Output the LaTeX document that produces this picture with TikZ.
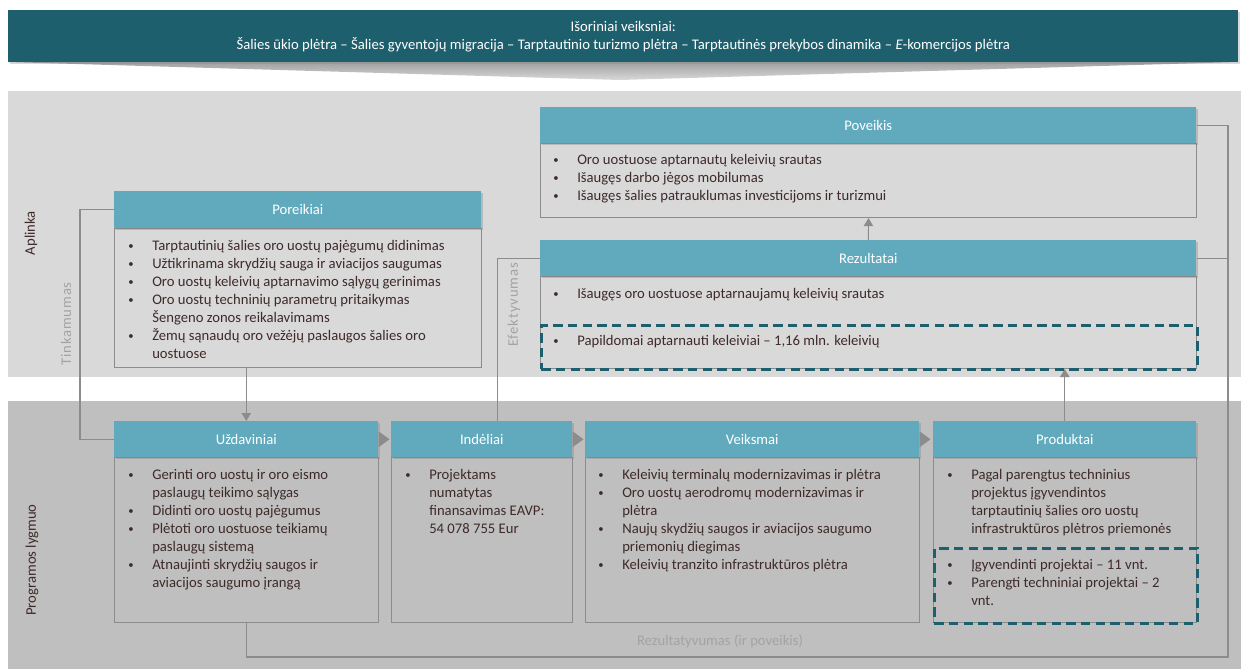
\documentclass[tikz,border=0pt]{standalone}
\usepackage{fontspec}
\setmainfont{Carlito}
\usetikzlibrary{positioning,shadows,arrows.meta}

\definecolor{bannerteal}{HTML}{1E5F6D}
\definecolor{headteal}{HTML}{61AABE}
\definecolor{bandlight}{HTML}{D9D9D9}
\definecolor{banddark}{HTML}{BFBFBF}
\definecolor{boxline}{HTML}{8C8C8C}
\definecolor{itemtext}{HTML}{3F2A2A}
\definecolor{labelgray}{HTML}{A3A3A3}

% small bullet and bullet list with hanging lines
\newcommand{\bul}{\raisebox{0.6pt}{\fontsize{8}{8}\selectfont\textbullet}}
\newcommand{\bullets}[1]{\begin{tabular}[t]{@{}p{18pt}@{}l@{}}#1\end{tabular}}

% panel: body frame + teal header
% #1 name, #2 x left, #3 x right, #4 y top, #5 y header, #6 y bottom, #7 title
\newcommand{\panel}[7]{%
  \node[body, anchor=north west, minimum width={(#3-#2)*0.75pt}, minimum height={(#6-#5)*0.75pt}] (#1b) at (#2,#5) {};
  \node[head, anchor=north west, minimum width={(#3-#2)*0.75pt}, minimum height={(#5-#4)*0.75pt}] (#1) at (#2,#4) {#7};}

\tikzset{
  head/.style={fill=headteal, text=white, inner sep=0pt, font=\fontsize{11}{13.5}\selectfont,
               drop shadow={shadow xshift=1.5pt, shadow yshift=-1.5pt, opacity=0.35}},
  body/.style={draw=boxline, line width=0.8pt, inner sep=0pt},
  list/.style={anchor=base west, inner sep=0pt, text=itemtext, font=\fontsize{11}{13.5}\selectfont},
  dashbox/.style={draw=bannerteal, line width=1.9pt, dash pattern=on 7pt off 4pt, inner sep=0pt},
  banner/.style={fill=bannerteal, text=white, align=center, inner sep=0pt, font=\fontsize{11}{13.5}\selectfont,
                 drop shadow={shadow xshift=1.5pt, shadow yshift=-1.5pt, opacity=0.3}},
  link/.style={draw=boxline, line width=0.8pt},
  flow/.style={link, -{Triangle[width=7pt,length=6pt]}},
  chev/.style={fill=boxline},
  side/.style={rotate=90, text=itemtext, font=\fontsize{11}{13.5}\selectfont},
  crit/.style={rotate=90, text=labelgray, font=\fontsize{11}{13.5}\selectfont\addfontfeatures{LetterSpace=6}},
}

\begin{document}
\begin{tikzpicture}[x=0.75pt, y=-0.75pt]
\useasboundingbox (0,0) rectangle (1241,669);

% background bands
\fill[bandlight] (8,91) rectangle (1241,377);
\fill[banddark] (8,401) rectangle (1241,669);

% external factors
\shade[top color=gray!75, bottom color=gray!30] (8,62) -- (1238,62) -- (620,80) -- cycle;
\node[banner, anchor=north west, minimum width=922.5pt, minimum height=39pt] (isor) at (8,10)
  {Išoriniai veiksniai:\\
   Šalies ūkio plėtra – Šalies gyventojų migracija – Tarptautinio turizmo plėtra – Tarptautinės prekybos dinamika – \textit{E}-komercijos plėtra};

% panels
\panel{poveik}{540}{1196}{107}{143}{217}{Poveikis}
\panel{rezult}{540}{1196}{240}{276}{368}{Rezultatai}
\panel{poreik}{114}{481}{191}{228}{367}{Poreikiai}
\panel{uzdav}{114}{378}{421}{457}{622}{Uždaviniai}
\panel{indel}{391}{572}{421}{457}{622}{Indėliai}
\panel{veiksm}{585}{919}{421}{457}{622}{Veiksmai}
\panel{produk}{933}{1196}{421}{457}{622}{Produktai}

% lists
\node[list] (poveikl) at (553,164) {\bullets{
  \bul & Oro uostuose aptarnautų keleivių srautas\\
  \bul & Išaugęs darbo jėgos mobilumas\\
  \bul & Išaugęs šalies patrauklumas investicijoms ir turizmui}};
\node[list] (rezultl) at (553,298) {\bullets{
  \bul & Išaugęs oro uostuose aptarnaujamų keleivių srautas}};
\node[list] (rezultm) at (553,345) {\bullets{
  \bul & Papildomai aptarnauti keleiviai – 1,16 mln. keleivių}};
\node[list] (poreikl) at (128,250) {\bullets{
  \bul & Tarptautinių šalies oro uostų pajėgumų didinimas\\
  \bul & Užtikrinama skrydžių sauga ir aviacijos saugumas\\
  \bul & Oro uostų keleivių aptarnavimo sąlygų gerinimas\\
  \bul & Oro uostų techninių parametrų pritaikymas\\
       & Šengeno zonos reikalavimams\\
  \bul & Žemų sąnaudų oro vežėjų paslaugos šalies oro\\
       & uostuose}};
\node[list] (uzdavl) at (128,479) {\bullets{
  \bul & Gerinti oro uostų ir oro eismo\\
       & paslaugų teikimo sąlygas\\
  \bul & Didinti oro uostų pajėgumus\\
  \bul & Plėtoti oro uostuose teikiamų\\
       & paslaugų sistemą\\
  \bul & Atnaujinti skrydžių saugos ir\\
       & aviacijos saugumo įrangą}};
\node[list] (indell) at (405,479) {\bullets{
  \bul & Projektams\\
       & numatytas\\
       & finansavimas EAVP:\\
       & 54 078 755 Eur}};
\node[list] (veiksml) at (598,479) {\bullets{
  \bul & Keleivių terminalų modernizavimas ir plėtra\\
  \bul & Oro uostų aerodromų modernizavimas ir\\
       & plėtra\\
  \bul & Naujų skydžių saugos ir aviacijos saugumo\\
       & priemonių diegimas\\
  \bul & Keleivių tranzito infrastruktūros plėtra}};
\node[list] (produkl) at (947,479) {\bullets{
  \bul & Pagal parengtus techninius\\
       & projektus įgyvendintos\\
       & tarptautinių šalies oro uostų\\
       & infrastruktūros plėtros priemonės}};
\node[list] (produkm) at (947,569) {\bullets{
  \bul & Įgyvendinti projektai – 11 vnt.\\
  \bul & Parengti techniniai projektai – 2\\
       & vnt.}};

% dashed frames
\node[dashbox, anchor=north west, minimum width=492pt, minimum height=33pt] (rezultd) at (540,324) {};
\node[dashbox, anchor=north west, minimum width=197.25pt, minimum height=56.25pt] (produkd) at (933,547) {};

% chevrons between program headers
\foreach \a in {uzdav,indel,veiksm}
  \fill[chev] (\a.east) +(0,-8) -- +(11,0) -- +(0,8) -- cycle;

% connectors
\coordinate (rbend) at (1228,657);
\draw[flow] (uzdav.north |- poreikb.south) -- (uzdav.north);
\draw[link] (poreik.west) -- ++(-34,0) |- (uzdav.west);
\draw[link] (rezult.west) -| ([xshift=11.5pt]indel.north);
\draw[flow] (rezult.north) -- (poveikb.south);
\draw[flow] (produk.north) -- (produk.north |- rezultb.south);
\draw[link] (uzdavb.south) |- (rbend) |- (poveik.east);
\draw[link] (rezult.east) -- (rezult.east -| rbend);

% side labels
\node[side] (aplinka) at (31,233) {Aplinka};
\node[side] (program) at (32,560) {Programos lygmuo};
\node[crit] (tinkam) at (66,324) {Tinkamumas};
\node[crit] (efekt) at (514,305) {Efektyvumas};
\node[text=labelgray, font=\fontsize{11}{13.5}\selectfont] (rezty) at (720,641) {Rezultatyvumas (ir poveikis)};

\end{tikzpicture}
\end{document}
